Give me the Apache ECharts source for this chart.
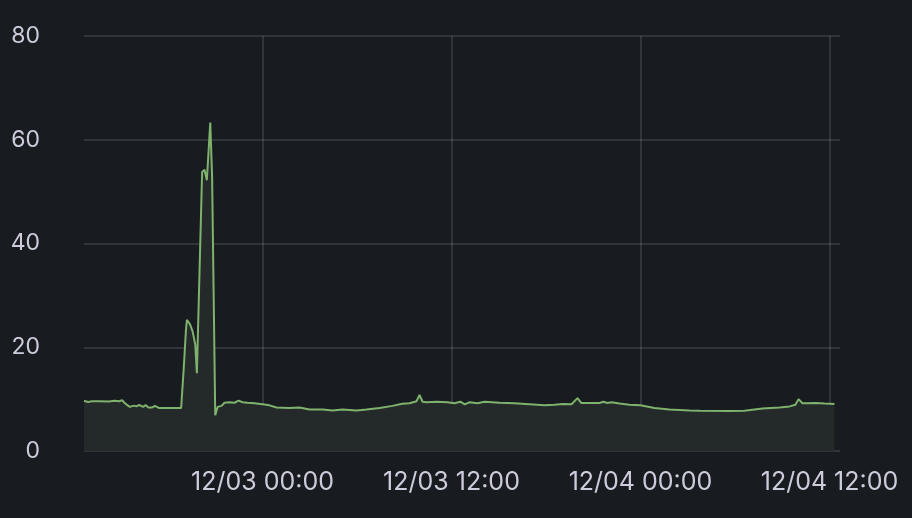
<!DOCTYPE html>
<html>
<head>
<meta charset="utf-8">
<script src="https://cdn.jsdelivr.net/npm/echarts@6/dist/echarts.min.js"></script>
<style>
html,body{margin:0;padding:0;background:#181b1f;}
#chart{width:912px;height:518px;}
</style>
</head>
<body>
<div id="chart"></div>
<script>
// ---- data ----
const times = [
'2023-12-02 12:40','2023-12-02 12:55','2023-12-02 13:10','2023-12-02 13:40','2023-12-02 14:15','2023-12-02 14:35',
'2023-12-02 14:55','2023-12-02 15:05','2023-12-02 15:15','2023-12-02 15:25','2023-12-02 15:35','2023-12-02 15:50',
'2023-12-02 16:00','2023-12-02 16:10','2023-12-02 16:25','2023-12-02 16:35','2023-12-02 16:45','2023-12-02 17:00',
'2023-12-02 17:10','2023-12-02 17:25','2023-12-02 18:05','2023-12-02 18:50','2023-12-02 19:00','2023-12-02 19:08',
'2023-12-02 19:12','2023-12-02 19:18','2023-12-02 19:24','2023-12-02 19:34','2023-12-02 19:44','2023-12-02 19:50',
'2023-12-02 20:10','2023-12-02 20:19','2023-12-02 20:28','2023-12-02 20:41','2023-12-02 20:48','2023-12-02 21:00',
'2023-12-02 21:09','2023-12-02 21:24','2023-12-02 21:35','2023-12-02 21:54','2023-12-02 22:13','2023-12-02 22:29',
'2023-12-02 22:44','2023-12-02 23:03','2023-12-02 23:30','2023-12-03 00:00','2023-12-03 00:27','2023-12-03 00:53',
'2023-12-03 01:43','2023-12-03 02:21','2023-12-03 02:59','2023-12-03 03:49','2023-12-03 04:27','2023-12-03 05:05',
'2023-12-03 05:58','2023-12-03 06:36','2023-12-03 07:26','2023-12-03 08:15','2023-12-03 08:53','2023-12-03 09:20',
'2023-12-03 09:47','2023-12-03 09:58','2023-12-03 10:10','2023-12-03 10:25','2023-12-03 11:03','2023-12-03 11:45',
'2023-12-03 12:11','2023-12-03 12:34','2023-12-03 12:50','2023-12-03 13:09','2023-12-03 13:39','2023-12-03 14:06',
'2023-12-03 15:03','2023-12-03 16:00','2023-12-03 16:57','2023-12-03 17:54','2023-12-03 18:32','2023-12-03 19:03',
'2023-12-03 19:37','2023-12-03 20:00','2023-12-03 20:15','2023-12-03 20:46','2023-12-03 21:24','2023-12-03 21:39',
'2023-12-03 21:54','2023-12-03 22:10','2023-12-03 22:40','2023-12-03 23:18','2023-12-04 00:00','2023-12-04 00:53',
'2023-12-04 01:50','2023-12-04 03:07','2023-12-04 03:45','2023-12-04 05:39','2023-12-04 06:36','2023-12-04 07:45',
'2023-12-04 08:50','2023-12-04 09:28','2023-12-04 09:50','2023-12-04 10:02','2023-12-04 10:17','2023-12-04 11:10',
'2023-12-04 11:41','2023-12-04 12:19'
];
const values = [
9.7,9.45,9.6,9.6,9.55,9.7,
9.6,9.8,9.25,8.85,8.5,8.75,
8.6,8.9,8.5,8.85,8.4,8.4,
8.7,8.3,8.3,8.3,16,23,
25.3,25.1,24.4,23.0,20.5,15.0,
53.8,54.2,52.2,63.3,52.9,6.9,
8.5,8.7,9.3,9.4,9.3,9.7,
9.4,9.3,9.2,9.0,8.8,8.4,
8.3,8.4,8.0,8.0,7.8,8.0,
7.8,8.0,8.3,8.7,9.1,9.2,
9.6,10.8,9.5,9.4,9.5,9.4,
9.2,9.5,9.0,9.4,9.2,9.5,
9.3,9.2,9.0,8.8,8.9,9.05,
9.0,10.2,9.25,9.25,9.25,9.5,
9.25,9.4,9.15,8.9,8.8,8.3,
8.0,7.8,7.75,7.7,7.75,8.2,
8.4,8.6,8.9,10.0,9.2,9.25,
9.15,9.05
];
const xTicks = ['2023-12-03 00:00','2023-12-03 12:00','2023-12-04 00:00','2023-12-04 12:00'];
const xRange = ['2023-12-02 12:40','2023-12-04 12:40'];
const yTicks = [0,20,40,60,80];

// ---- helpers ----
function toMs(s){
  const m = s.match(/(\d+)-(\d+)-(\d+) (\d+):(\d+)/);
  return Date.UTC(+m[1], +m[2]-1, +m[3], +m[4], +m[5]);
}
function pad(n){ return (n<10?'0':'')+n; }
function fmt(ms){
  const d = new Date(ms);
  return pad(d.getUTCMonth()+1)+'/'+pad(d.getUTCDate())+' '+pad(d.getUTCHours())+':'+pad(d.getUTCMinutes());
}

const seriesData = times.map((t,i)=>[toMs(t), values[i]]);
const tickMs = xTicks.map(toMs);

const textColor = '#ccccdc';
const gridColor = 'rgba(204,204,220,0.2)';
const fontFamily = 'Inter, Roboto, sans-serif';

const chart = echarts.init(document.getElementById('chart'), null, {renderer:'canvas'});
chart.setOption({
  backgroundColor: '#181b1f',
  animation: false,
  grid: {left: 84, right: 72, top: 36, bottom: 67, containLabel: false},
  xAxis: {
    type: 'value',
    min: toMs(xRange[0]),
    max: toMs(xRange[1]),
    axisLine: {show: false},
    axisTick: {show: false, customValues: tickMs},
    axisLabel: {
      customValues: tickMs,
      formatter: v => fmt(v),
      color: textColor, fontSize: 25, fontFamily: fontFamily, margin: 19
    },
    splitLine: {show: true, lineStyle: {color: gridColor, width: 1.5}}
  },
  yAxis: {
    type: 'value',
    min: yTicks[0], max: yTicks[yTicks.length-1], interval: 20,
    axisLine: {show: false},
    axisTick: {show: false},
    axisLabel: {color: textColor, fontSize: 23, fontFamily: fontFamily, margin: 44},
    splitLine: {show: true, lineStyle: {color: gridColor, width: 1.5}}
  },
  series: [{
    type: 'line',
    data: seriesData,
    showSymbol: false,
    lineStyle: {color: '#7eb26d', width: 2},
    itemStyle: {color: '#7eb26d'},
    areaStyle: {color: '#24292a', opacity: 1}
  }]
});
</script>
</body>
</html>
